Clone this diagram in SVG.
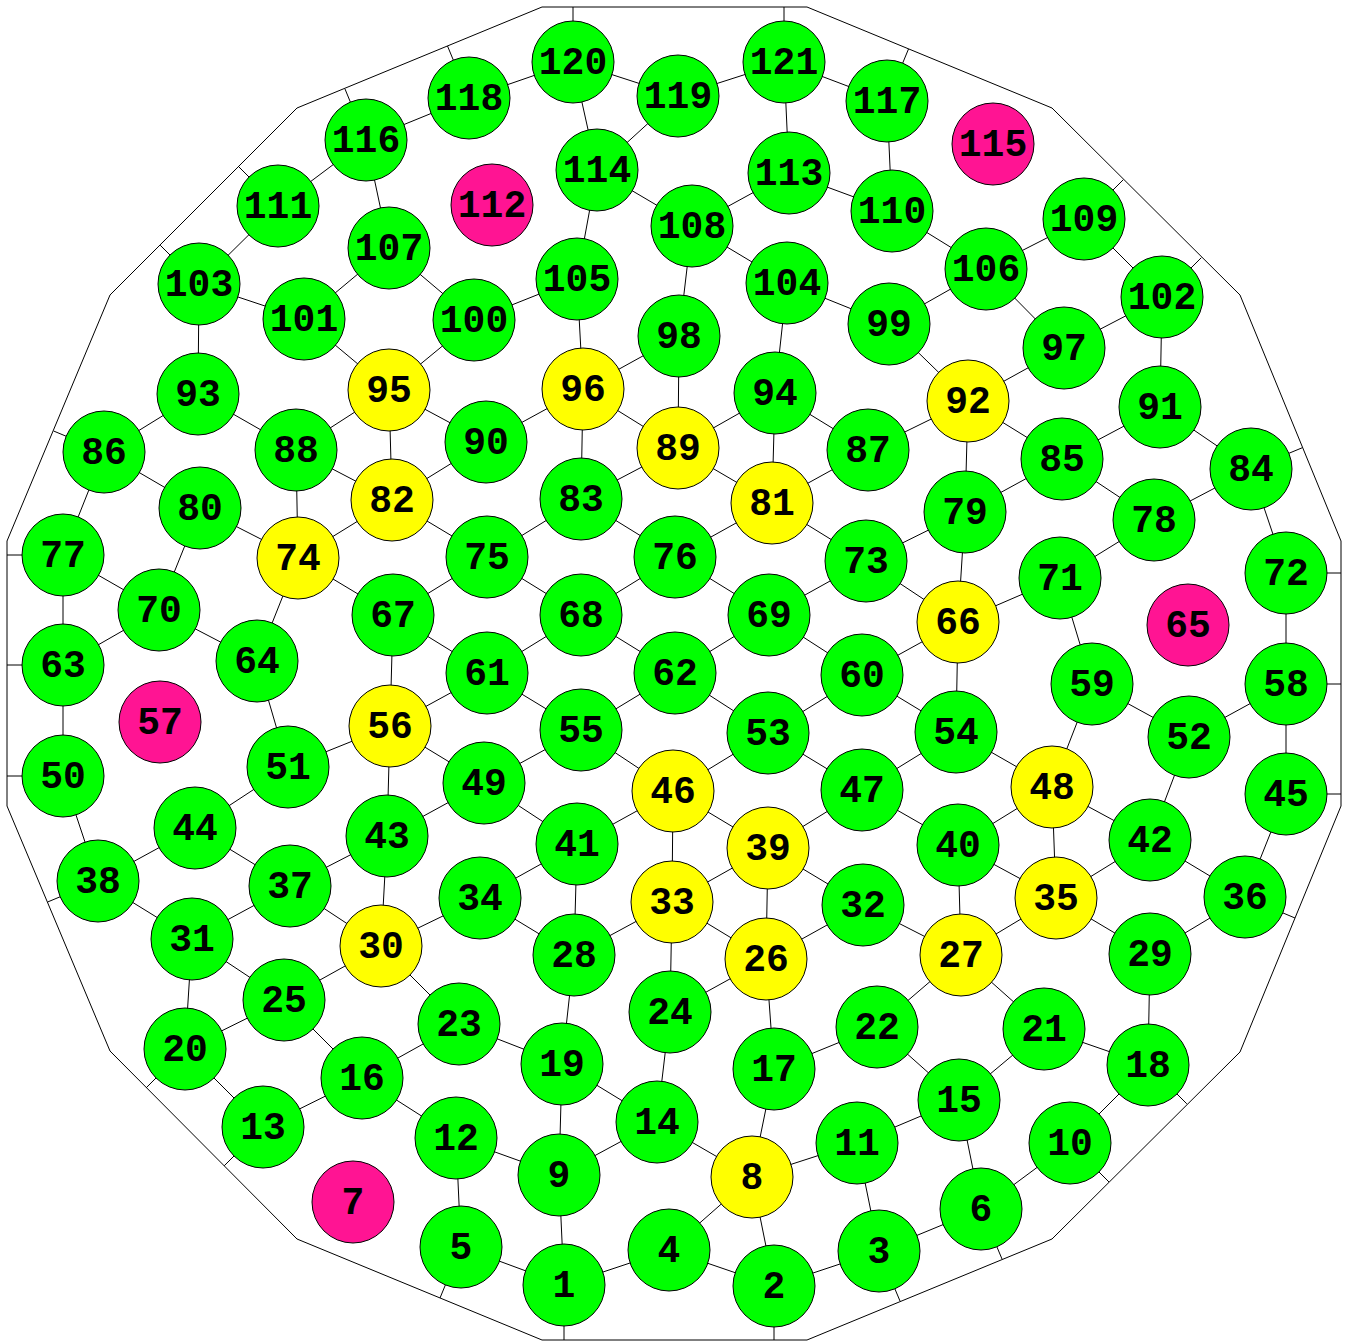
<svg xmlns="http://www.w3.org/2000/svg" width="1348" height="1342" viewBox="0 0 1348 1342">
<style>
.e line{stroke:#000;stroke-width:1}
.border{fill:none;stroke:#000;stroke-width:1}
circle{stroke:#000;stroke-width:1}
.g{fill:#00ff00}
.y{fill:#ffff00}
.m{fill:#ff1493}
text{font-family:"Liberation Mono","Courier New",monospace;font-weight:bold;font-size:38px;text-anchor:middle;fill:#000}
</style>
<rect width="1348" height="1342" fill="#fff"/>
<polygon class="border" points="542,7 807,7 1052,108 1240,295 1341,541 1341,806 1240,1052 1052,1239 807,1340 542,1340 297,1239 110,1051 7,806 7,541 110,295 297,108"/>
<g id="connectors" class="e">
<line x1="573" y1="62" x2="573" y2="7"/>
<line x1="784" y1="62" x2="784" y2="7"/>
<line x1="469" y1="98" x2="447.5" y2="46"/>
<line x1="366" y1="140" x2="345" y2="89"/>
<line x1="278" y1="206" x2="238.7" y2="166.7"/>
<line x1="199" y1="284" x2="160.2" y2="245.2"/>
<line x1="104" y1="452" x2="53.6" y2="431"/>
<line x1="63" y1="555" x2="7" y2="555"/>
<line x1="63" y1="665" x2="7" y2="665"/>
<line x1="63" y1="776" x2="7" y2="776"/>
<line x1="98" y1="881" x2="47.6" y2="902"/>
<line x1="185" y1="1049" x2="146.2" y2="1087.8"/>
<line x1="263" y1="1127" x2="224.2" y2="1165.8"/>
<line x1="461" y1="1247" x2="440" y2="1298"/>
<line x1="564" y1="1285" x2="564" y2="1340"/>
<line x1="774" y1="1286" x2="774" y2="1340"/>
<line x1="879" y1="1251" x2="900" y2="1301"/>
<line x1="981" y1="1209" x2="1002" y2="1259"/>
<line x1="1070" y1="1143" x2="1109" y2="1182"/>
<line x1="1148" y1="1065" x2="1186.8" y2="1103.8"/>
<line x1="1245" y1="897" x2="1295" y2="918"/>
<line x1="1286" y1="794" x2="1341" y2="794"/>
<line x1="1286" y1="684" x2="1341" y2="684"/>
<line x1="1286" y1="573" x2="1341" y2="573"/>
<line x1="1251" y1="469" x2="1302.4" y2="447.7"/>
<line x1="1162" y1="297" x2="1201.3" y2="257.7"/>
<line x1="1084" y1="219" x2="1123.3" y2="179.7"/>
<line x1="887" y1="101" x2="908.5" y2="49"/>
<line x1="564" y1="1285" x2="461" y2="1247"/>
<line x1="564" y1="1285" x2="669" y2="1250"/>
<line x1="564" y1="1285" x2="559" y2="1175"/>
<line x1="774" y1="1286" x2="669" y2="1250"/>
<line x1="774" y1="1286" x2="879" y2="1251"/>
<line x1="774" y1="1286" x2="752" y2="1177"/>
<line x1="879" y1="1251" x2="857" y2="1143"/>
<line x1="879" y1="1251" x2="981" y2="1209"/>
<line x1="669" y1="1250" x2="752" y2="1177"/>
<line x1="461" y1="1247" x2="456" y2="1138"/>
<line x1="981" y1="1209" x2="1070" y2="1143"/>
<line x1="981" y1="1209" x2="959" y2="1100"/>
<line x1="752" y1="1177" x2="657" y2="1122"/>
<line x1="752" y1="1177" x2="857" y2="1143"/>
<line x1="752" y1="1177" x2="774" y2="1069"/>
<line x1="559" y1="1175" x2="456" y2="1138"/>
<line x1="559" y1="1175" x2="657" y2="1122"/>
<line x1="559" y1="1175" x2="562" y2="1064"/>
<line x1="1070" y1="1143" x2="1148" y2="1065"/>
<line x1="857" y1="1143" x2="959" y2="1100"/>
<line x1="456" y1="1138" x2="362" y2="1078"/>
<line x1="263" y1="1127" x2="362" y2="1078"/>
<line x1="263" y1="1127" x2="185" y2="1049"/>
<line x1="657" y1="1122" x2="562" y2="1064"/>
<line x1="657" y1="1122" x2="670" y2="1012"/>
<line x1="959" y1="1100" x2="877" y2="1027"/>
<line x1="959" y1="1100" x2="1044" y2="1029"/>
<line x1="362" y1="1078" x2="459" y2="1024"/>
<line x1="362" y1="1078" x2="284" y2="1000"/>
<line x1="774" y1="1069" x2="877" y2="1027"/>
<line x1="774" y1="1069" x2="766" y2="959"/>
<line x1="1148" y1="1065" x2="1044" y2="1029"/>
<line x1="1148" y1="1065" x2="1150" y2="954"/>
<line x1="562" y1="1064" x2="459" y2="1024"/>
<line x1="562" y1="1064" x2="574" y2="955"/>
<line x1="185" y1="1049" x2="284" y2="1000"/>
<line x1="185" y1="1049" x2="192" y2="939"/>
<line x1="1044" y1="1029" x2="961" y2="955"/>
<line x1="877" y1="1027" x2="961" y2="955"/>
<line x1="459" y1="1024" x2="381" y2="946"/>
<line x1="670" y1="1012" x2="766" y2="959"/>
<line x1="670" y1="1012" x2="672" y2="902"/>
<line x1="284" y1="1000" x2="381" y2="946"/>
<line x1="284" y1="1000" x2="192" y2="939"/>
<line x1="766" y1="959" x2="863" y2="905"/>
<line x1="766" y1="959" x2="672" y2="902"/>
<line x1="766" y1="959" x2="768" y2="848"/>
<line x1="961" y1="955" x2="863" y2="905"/>
<line x1="961" y1="955" x2="1056" y2="898"/>
<line x1="961" y1="955" x2="958" y2="845"/>
<line x1="574" y1="955" x2="672" y2="902"/>
<line x1="574" y1="955" x2="480" y2="898"/>
<line x1="574" y1="955" x2="577" y2="844"/>
<line x1="1150" y1="954" x2="1056" y2="898"/>
<line x1="1150" y1="954" x2="1245" y2="897"/>
<line x1="381" y1="946" x2="480" y2="898"/>
<line x1="381" y1="946" x2="290" y2="886"/>
<line x1="381" y1="946" x2="387" y2="836"/>
<line x1="192" y1="939" x2="290" y2="886"/>
<line x1="192" y1="939" x2="98" y2="881"/>
<line x1="863" y1="905" x2="768" y2="848"/>
<line x1="672" y1="902" x2="768" y2="848"/>
<line x1="672" y1="902" x2="673" y2="791"/>
<line x1="480" y1="898" x2="577" y2="844"/>
<line x1="1056" y1="898" x2="958" y2="845"/>
<line x1="1056" y1="898" x2="1150" y2="840"/>
<line x1="1056" y1="898" x2="1052" y2="787"/>
<line x1="1245" y1="897" x2="1150" y2="840"/>
<line x1="1245" y1="897" x2="1286" y2="794"/>
<line x1="290" y1="886" x2="387" y2="836"/>
<line x1="290" y1="886" x2="195" y2="828"/>
<line x1="98" y1="881" x2="195" y2="828"/>
<line x1="98" y1="881" x2="63" y2="776"/>
<line x1="768" y1="848" x2="673" y2="791"/>
<line x1="768" y1="848" x2="862" y2="790"/>
<line x1="958" y1="845" x2="862" y2="790"/>
<line x1="958" y1="845" x2="1052" y2="787"/>
<line x1="577" y1="844" x2="673" y2="791"/>
<line x1="577" y1="844" x2="484" y2="783"/>
<line x1="1150" y1="840" x2="1052" y2="787"/>
<line x1="1150" y1="840" x2="1189" y2="737"/>
<line x1="387" y1="836" x2="484" y2="783"/>
<line x1="387" y1="836" x2="390" y2="726"/>
<line x1="195" y1="828" x2="288" y2="767"/>
<line x1="1286" y1="794" x2="1286" y2="684"/>
<line x1="673" y1="791" x2="768" y2="733"/>
<line x1="673" y1="791" x2="581" y2="730"/>
<line x1="862" y1="790" x2="768" y2="733"/>
<line x1="862" y1="790" x2="956" y2="732"/>
<line x1="1052" y1="787" x2="956" y2="732"/>
<line x1="1052" y1="787" x2="1092" y2="684"/>
<line x1="484" y1="783" x2="581" y2="730"/>
<line x1="484" y1="783" x2="390" y2="726"/>
<line x1="63" y1="776" x2="63" y2="665"/>
<line x1="288" y1="767" x2="390" y2="726"/>
<line x1="288" y1="767" x2="257" y2="661"/>
<line x1="1189" y1="737" x2="1286" y2="684"/>
<line x1="1189" y1="737" x2="1092" y2="684"/>
<line x1="768" y1="733" x2="862" y2="675"/>
<line x1="768" y1="733" x2="675" y2="673"/>
<line x1="956" y1="732" x2="862" y2="675"/>
<line x1="956" y1="732" x2="958" y2="622"/>
<line x1="581" y1="730" x2="487" y2="673"/>
<line x1="581" y1="730" x2="675" y2="673"/>
<line x1="390" y1="726" x2="487" y2="673"/>
<line x1="390" y1="726" x2="393" y2="615"/>
<line x1="1286" y1="684" x2="1286" y2="573"/>
<line x1="1092" y1="684" x2="1060" y2="578"/>
<line x1="862" y1="675" x2="958" y2="622"/>
<line x1="862" y1="675" x2="769" y2="615"/>
<line x1="487" y1="673" x2="393" y2="615"/>
<line x1="487" y1="673" x2="581" y2="615"/>
<line x1="675" y1="673" x2="581" y2="615"/>
<line x1="675" y1="673" x2="769" y2="615"/>
<line x1="63" y1="665" x2="159" y2="610"/>
<line x1="63" y1="665" x2="63" y2="555"/>
<line x1="257" y1="661" x2="159" y2="610"/>
<line x1="257" y1="661" x2="298" y2="558"/>
<line x1="958" y1="622" x2="1060" y2="578"/>
<line x1="958" y1="622" x2="866" y2="561"/>
<line x1="958" y1="622" x2="965" y2="512"/>
<line x1="393" y1="615" x2="298" y2="558"/>
<line x1="393" y1="615" x2="487" y2="557"/>
<line x1="581" y1="615" x2="487" y2="557"/>
<line x1="581" y1="615" x2="675" y2="557"/>
<line x1="769" y1="615" x2="866" y2="561"/>
<line x1="769" y1="615" x2="675" y2="557"/>
<line x1="159" y1="610" x2="63" y2="555"/>
<line x1="159" y1="610" x2="200" y2="508"/>
<line x1="1060" y1="578" x2="1154" y2="520"/>
<line x1="1286" y1="573" x2="1251" y2="469"/>
<line x1="866" y1="561" x2="965" y2="512"/>
<line x1="866" y1="561" x2="772" y2="503"/>
<line x1="298" y1="558" x2="200" y2="508"/>
<line x1="298" y1="558" x2="392" y2="500"/>
<line x1="298" y1="558" x2="296" y2="450"/>
<line x1="487" y1="557" x2="392" y2="500"/>
<line x1="487" y1="557" x2="581" y2="499"/>
<line x1="675" y1="557" x2="772" y2="503"/>
<line x1="675" y1="557" x2="581" y2="499"/>
<line x1="63" y1="555" x2="104" y2="452"/>
<line x1="1154" y1="520" x2="1251" y2="469"/>
<line x1="1154" y1="520" x2="1062" y2="459"/>
<line x1="965" y1="512" x2="1062" y2="459"/>
<line x1="965" y1="512" x2="968" y2="401"/>
<line x1="200" y1="508" x2="104" y2="452"/>
<line x1="772" y1="503" x2="868" y2="450"/>
<line x1="772" y1="503" x2="678" y2="448"/>
<line x1="772" y1="503" x2="775" y2="393"/>
<line x1="392" y1="500" x2="296" y2="450"/>
<line x1="392" y1="500" x2="486" y2="442"/>
<line x1="392" y1="500" x2="389" y2="390"/>
<line x1="581" y1="499" x2="678" y2="448"/>
<line x1="581" y1="499" x2="583" y2="389"/>
<line x1="1251" y1="469" x2="1160" y2="407"/>
<line x1="1062" y1="459" x2="1160" y2="407"/>
<line x1="1062" y1="459" x2="968" y2="401"/>
<line x1="104" y1="452" x2="198" y2="394"/>
<line x1="868" y1="450" x2="968" y2="401"/>
<line x1="868" y1="450" x2="775" y2="393"/>
<line x1="296" y1="450" x2="198" y2="394"/>
<line x1="296" y1="450" x2="389" y2="390"/>
<line x1="678" y1="448" x2="775" y2="393"/>
<line x1="678" y1="448" x2="583" y2="389"/>
<line x1="678" y1="448" x2="679" y2="336"/>
<line x1="486" y1="442" x2="389" y2="390"/>
<line x1="486" y1="442" x2="583" y2="389"/>
<line x1="1160" y1="407" x2="1162" y2="297"/>
<line x1="968" y1="401" x2="1064" y2="348"/>
<line x1="968" y1="401" x2="889" y2="324"/>
<line x1="198" y1="394" x2="199" y2="284"/>
<line x1="775" y1="393" x2="787" y2="283"/>
<line x1="389" y1="390" x2="474" y2="320"/>
<line x1="389" y1="390" x2="304" y2="319"/>
<line x1="583" y1="389" x2="679" y2="336"/>
<line x1="583" y1="389" x2="577" y2="279"/>
<line x1="1064" y1="348" x2="1162" y2="297"/>
<line x1="1064" y1="348" x2="986" y2="269"/>
<line x1="679" y1="336" x2="692" y2="226"/>
<line x1="889" y1="324" x2="787" y2="283"/>
<line x1="889" y1="324" x2="986" y2="269"/>
<line x1="474" y1="320" x2="577" y2="279"/>
<line x1="474" y1="320" x2="389" y2="248"/>
<line x1="304" y1="319" x2="199" y2="284"/>
<line x1="304" y1="319" x2="389" y2="248"/>
<line x1="1162" y1="297" x2="1084" y2="219"/>
<line x1="199" y1="284" x2="278" y2="206"/>
<line x1="787" y1="283" x2="692" y2="226"/>
<line x1="577" y1="279" x2="597" y2="170"/>
<line x1="986" y1="269" x2="1084" y2="219"/>
<line x1="986" y1="269" x2="892" y2="211"/>
<line x1="389" y1="248" x2="366" y2="140"/>
<line x1="692" y1="226" x2="789" y2="173"/>
<line x1="692" y1="226" x2="597" y2="170"/>
<line x1="892" y1="211" x2="789" y2="173"/>
<line x1="892" y1="211" x2="887" y2="101"/>
<line x1="278" y1="206" x2="366" y2="140"/>
<line x1="789" y1="173" x2="784" y2="62"/>
<line x1="597" y1="170" x2="678" y2="96"/>
<line x1="597" y1="170" x2="573" y2="62"/>
<line x1="366" y1="140" x2="469" y2="98"/>
<line x1="887" y1="101" x2="784" y2="62"/>
<line x1="469" y1="98" x2="573" y2="62"/>
<line x1="678" y1="96" x2="573" y2="62"/>
<line x1="678" y1="96" x2="784" y2="62"/>
</g>
<g id="n1"><circle class="g" cx="564" cy="1285" r="41"/><text x="564" y="1297">1</text></g>
<g id="n2"><circle class="g" cx="774" cy="1286" r="41"/><text x="774" y="1298">2</text></g>
<g id="n3"><circle class="g" cx="879" cy="1251" r="41"/><text x="879" y="1263">3</text></g>
<g id="n4"><circle class="g" cx="669" cy="1250" r="41"/><text x="669" y="1262">4</text></g>
<g id="n5"><circle class="g" cx="461" cy="1247" r="41"/><text x="461" y="1259">5</text></g>
<g id="n6"><circle class="g" cx="981" cy="1209" r="41"/><text x="981" y="1221">6</text></g>
<g id="n7"><circle class="m" cx="353" cy="1202" r="41"/><text x="353" y="1214">7</text></g>
<g id="n8"><circle class="y" cx="752" cy="1177" r="41"/><text x="752" y="1189">8</text></g>
<g id="n9"><circle class="g" cx="559" cy="1175" r="41"/><text x="559" y="1187">9</text></g>
<g id="n10"><circle class="g" cx="1070" cy="1143" r="41"/><text x="1070" y="1155">10</text></g>
<g id="n11"><circle class="g" cx="857" cy="1143" r="41"/><text x="857" y="1155">11</text></g>
<g id="n12"><circle class="g" cx="456" cy="1138" r="41"/><text x="456" y="1150">12</text></g>
<g id="n13"><circle class="g" cx="263" cy="1127" r="41"/><text x="263" y="1139">13</text></g>
<g id="n14"><circle class="g" cx="657" cy="1122" r="41"/><text x="657" y="1134">14</text></g>
<g id="n15"><circle class="g" cx="959" cy="1100" r="41"/><text x="959" y="1112">15</text></g>
<g id="n16"><circle class="g" cx="362" cy="1078" r="41"/><text x="362" y="1090">16</text></g>
<g id="n17"><circle class="g" cx="774" cy="1069" r="41"/><text x="774" y="1081">17</text></g>
<g id="n18"><circle class="g" cx="1148" cy="1065" r="41"/><text x="1148" y="1077">18</text></g>
<g id="n19"><circle class="g" cx="562" cy="1064" r="41"/><text x="562" y="1076">19</text></g>
<g id="n20"><circle class="g" cx="185" cy="1049" r="41"/><text x="185" y="1061">20</text></g>
<g id="n21"><circle class="g" cx="1044" cy="1029" r="41"/><text x="1044" y="1041">21</text></g>
<g id="n22"><circle class="g" cx="877" cy="1027" r="41"/><text x="877" y="1039">22</text></g>
<g id="n23"><circle class="g" cx="459" cy="1024" r="41"/><text x="459" y="1036">23</text></g>
<g id="n24"><circle class="g" cx="670" cy="1012" r="41"/><text x="670" y="1024">24</text></g>
<g id="n25"><circle class="g" cx="284" cy="1000" r="41"/><text x="284" y="1012">25</text></g>
<g id="n26"><circle class="y" cx="766" cy="959" r="41"/><text x="766" y="971">26</text></g>
<g id="n27"><circle class="y" cx="961" cy="955" r="41"/><text x="961" y="967">27</text></g>
<g id="n28"><circle class="g" cx="574" cy="955" r="41"/><text x="574" y="967">28</text></g>
<g id="n29"><circle class="g" cx="1150" cy="954" r="41"/><text x="1150" y="966">29</text></g>
<g id="n30"><circle class="y" cx="381" cy="946" r="41"/><text x="381" y="958">30</text></g>
<g id="n31"><circle class="g" cx="192" cy="939" r="41"/><text x="192" y="951">31</text></g>
<g id="n32"><circle class="g" cx="863" cy="905" r="41"/><text x="863" y="917">32</text></g>
<g id="n33"><circle class="y" cx="672" cy="902" r="41"/><text x="672" y="914">33</text></g>
<g id="n34"><circle class="g" cx="480" cy="898" r="41"/><text x="480" y="910">34</text></g>
<g id="n35"><circle class="y" cx="1056" cy="898" r="41"/><text x="1056" y="910">35</text></g>
<g id="n36"><circle class="g" cx="1245" cy="897" r="41"/><text x="1245" y="909">36</text></g>
<g id="n37"><circle class="g" cx="290" cy="886" r="41"/><text x="290" y="898">37</text></g>
<g id="n38"><circle class="g" cx="98" cy="881" r="41"/><text x="98" y="893">38</text></g>
<g id="n39"><circle class="y" cx="768" cy="848" r="41"/><text x="768" y="860">39</text></g>
<g id="n40"><circle class="g" cx="958" cy="845" r="41"/><text x="958" y="857">40</text></g>
<g id="n41"><circle class="g" cx="577" cy="844" r="41"/><text x="577" y="856">41</text></g>
<g id="n42"><circle class="g" cx="1150" cy="840" r="41"/><text x="1150" y="852">42</text></g>
<g id="n43"><circle class="g" cx="387" cy="836" r="41"/><text x="387" y="848">43</text></g>
<g id="n44"><circle class="g" cx="195" cy="828" r="41"/><text x="195" y="840">44</text></g>
<g id="n45"><circle class="g" cx="1286" cy="794" r="41"/><text x="1286" y="806">45</text></g>
<g id="n46"><circle class="y" cx="673" cy="791" r="41"/><text x="673" y="803">46</text></g>
<g id="n47"><circle class="g" cx="862" cy="790" r="41"/><text x="862" y="802">47</text></g>
<g id="n48"><circle class="y" cx="1052" cy="787" r="41"/><text x="1052" y="799">48</text></g>
<g id="n49"><circle class="g" cx="484" cy="783" r="41"/><text x="484" y="795">49</text></g>
<g id="n50"><circle class="g" cx="63" cy="776" r="41"/><text x="63" y="788">50</text></g>
<g id="n51"><circle class="g" cx="288" cy="767" r="41"/><text x="288" y="779">51</text></g>
<g id="n52"><circle class="g" cx="1189" cy="737" r="41"/><text x="1189" y="749">52</text></g>
<g id="n53"><circle class="g" cx="768" cy="733" r="41"/><text x="768" y="745">53</text></g>
<g id="n54"><circle class="g" cx="956" cy="732" r="41"/><text x="956" y="744">54</text></g>
<g id="n55"><circle class="g" cx="581" cy="730" r="41"/><text x="581" y="742">55</text></g>
<g id="n56"><circle class="y" cx="390" cy="726" r="41"/><text x="390" y="738">56</text></g>
<g id="n57"><circle class="m" cx="160" cy="722" r="41"/><text x="160" y="734">57</text></g>
<g id="n58"><circle class="g" cx="1286" cy="684" r="41"/><text x="1286" y="696">58</text></g>
<g id="n59"><circle class="g" cx="1092" cy="684" r="41"/><text x="1092" y="696">59</text></g>
<g id="n60"><circle class="g" cx="862" cy="675" r="41"/><text x="862" y="687">60</text></g>
<g id="n61"><circle class="g" cx="487" cy="673" r="41"/><text x="487" y="685">61</text></g>
<g id="n62"><circle class="g" cx="675" cy="673" r="41"/><text x="675" y="685">62</text></g>
<g id="n63"><circle class="g" cx="63" cy="665" r="41"/><text x="63" y="677">63</text></g>
<g id="n64"><circle class="g" cx="257" cy="661" r="41"/><text x="257" y="673">64</text></g>
<g id="n65"><circle class="m" cx="1188" cy="625" r="41"/><text x="1188" y="637">65</text></g>
<g id="n66"><circle class="y" cx="958" cy="622" r="41"/><text x="958" y="634">66</text></g>
<g id="n67"><circle class="g" cx="393" cy="615" r="41"/><text x="393" y="627">67</text></g>
<g id="n68"><circle class="g" cx="581" cy="615" r="41"/><text x="581" y="627">68</text></g>
<g id="n69"><circle class="g" cx="769" cy="615" r="41"/><text x="769" y="627">69</text></g>
<g id="n70"><circle class="g" cx="159" cy="610" r="41"/><text x="159" y="622">70</text></g>
<g id="n71"><circle class="g" cx="1060" cy="578" r="41"/><text x="1060" y="590">71</text></g>
<g id="n72"><circle class="g" cx="1286" cy="573" r="41"/><text x="1286" y="585">72</text></g>
<g id="n73"><circle class="g" cx="866" cy="561" r="41"/><text x="866" y="573">73</text></g>
<g id="n74"><circle class="y" cx="298" cy="558" r="41"/><text x="298" y="570">74</text></g>
<g id="n75"><circle class="g" cx="487" cy="557" r="41"/><text x="487" y="569">75</text></g>
<g id="n76"><circle class="g" cx="675" cy="557" r="41"/><text x="675" y="569">76</text></g>
<g id="n77"><circle class="g" cx="63" cy="555" r="41"/><text x="63" y="567">77</text></g>
<g id="n78"><circle class="g" cx="1154" cy="520" r="41"/><text x="1154" y="532">78</text></g>
<g id="n79"><circle class="g" cx="965" cy="512" r="41"/><text x="965" y="524">79</text></g>
<g id="n80"><circle class="g" cx="200" cy="508" r="41"/><text x="200" y="520">80</text></g>
<g id="n81"><circle class="y" cx="772" cy="503" r="41"/><text x="772" y="515">81</text></g>
<g id="n82"><circle class="y" cx="392" cy="500" r="41"/><text x="392" y="512">82</text></g>
<g id="n83"><circle class="g" cx="581" cy="499" r="41"/><text x="581" y="511">83</text></g>
<g id="n84"><circle class="g" cx="1251" cy="469" r="41"/><text x="1251" y="481">84</text></g>
<g id="n85"><circle class="g" cx="1062" cy="459" r="41"/><text x="1062" y="471">85</text></g>
<g id="n86"><circle class="g" cx="104" cy="452" r="41"/><text x="104" y="464">86</text></g>
<g id="n87"><circle class="g" cx="868" cy="450" r="41"/><text x="868" y="462">87</text></g>
<g id="n88"><circle class="g" cx="296" cy="450" r="41"/><text x="296" y="462">88</text></g>
<g id="n89"><circle class="y" cx="678" cy="448" r="41"/><text x="678" y="460">89</text></g>
<g id="n90"><circle class="g" cx="486" cy="442" r="41"/><text x="486" y="454">90</text></g>
<g id="n91"><circle class="g" cx="1160" cy="407" r="41"/><text x="1160" y="419">91</text></g>
<g id="n92"><circle class="y" cx="968" cy="401" r="41"/><text x="968" y="413">92</text></g>
<g id="n93"><circle class="g" cx="198" cy="394" r="41"/><text x="198" y="406">93</text></g>
<g id="n94"><circle class="g" cx="775" cy="393" r="41"/><text x="775" y="405">94</text></g>
<g id="n95"><circle class="y" cx="389" cy="390" r="41"/><text x="389" y="402">95</text></g>
<g id="n96"><circle class="y" cx="583" cy="389" r="41"/><text x="583" y="401">96</text></g>
<g id="n97"><circle class="g" cx="1064" cy="348" r="41"/><text x="1064" y="360">97</text></g>
<g id="n98"><circle class="g" cx="679" cy="336" r="41"/><text x="679" y="348">98</text></g>
<g id="n99"><circle class="g" cx="889" cy="324" r="41"/><text x="889" y="336">99</text></g>
<g id="n100"><circle class="g" cx="474" cy="320" r="41"/><text x="474" y="332">100</text></g>
<g id="n101"><circle class="g" cx="304" cy="319" r="41"/><text x="304" y="331">101</text></g>
<g id="n102"><circle class="g" cx="1162" cy="297" r="41"/><text x="1162" y="309">102</text></g>
<g id="n103"><circle class="g" cx="199" cy="284" r="41"/><text x="199" y="296">103</text></g>
<g id="n104"><circle class="g" cx="787" cy="283" r="41"/><text x="787" y="295">104</text></g>
<g id="n105"><circle class="g" cx="577" cy="279" r="41"/><text x="577" y="291">105</text></g>
<g id="n106"><circle class="g" cx="986" cy="269" r="41"/><text x="986" y="281">106</text></g>
<g id="n107"><circle class="g" cx="389" cy="248" r="41"/><text x="389" y="260">107</text></g>
<g id="n108"><circle class="g" cx="692" cy="226" r="41"/><text x="692" y="238">108</text></g>
<g id="n109"><circle class="g" cx="1084" cy="219" r="41"/><text x="1084" y="231">109</text></g>
<g id="n110"><circle class="g" cx="892" cy="211" r="41"/><text x="892" y="223">110</text></g>
<g id="n111"><circle class="g" cx="278" cy="206" r="41"/><text x="278" y="218">111</text></g>
<g id="n112"><circle class="m" cx="492" cy="205" r="41"/><text x="492" y="217">112</text></g>
<g id="n113"><circle class="g" cx="789" cy="173" r="41"/><text x="789" y="185">113</text></g>
<g id="n114"><circle class="g" cx="597" cy="170" r="41"/><text x="597" y="182">114</text></g>
<g id="n115"><circle class="m" cx="993" cy="144" r="41"/><text x="993" y="156">115</text></g>
<g id="n116"><circle class="g" cx="366" cy="140" r="41"/><text x="366" y="152">116</text></g>
<g id="n117"><circle class="g" cx="887" cy="101" r="41"/><text x="887" y="113">117</text></g>
<g id="n118"><circle class="g" cx="469" cy="98" r="41"/><text x="469" y="110">118</text></g>
<g id="n119"><circle class="g" cx="678" cy="96" r="41"/><text x="678" y="108">119</text></g>
<g id="n120"><circle class="g" cx="573" cy="62" r="41"/><text x="573" y="74">120</text></g>
<g id="n121"><circle class="g" cx="784" cy="62" r="41"/><text x="784" y="74">121</text></g>
</svg>
